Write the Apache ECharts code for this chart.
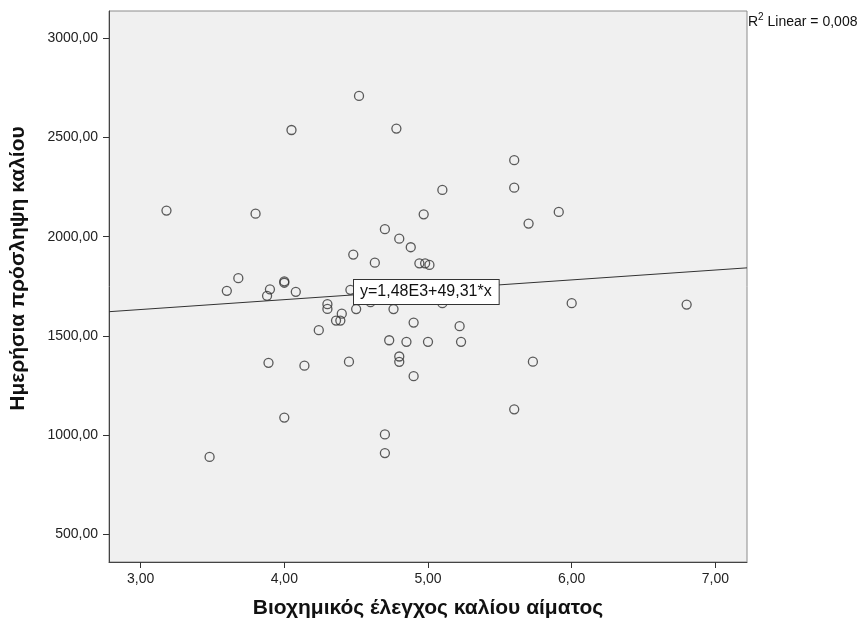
<!DOCTYPE html>
<html>
<head>
<meta charset="utf-8">
<script src="https://cdn.jsdelivr.net/npm/echarts@6/dist/echarts.min.js"></script>
<style>html,body{margin:0;padding:0;background:#fff}#c{width:867px;height:622px}</style>
</head>
<body>
<div id="c"></div>
<script>
// Data
var potassiumBlood = [4.52,4.05,4.78,3.18,3.80,4.97,4.70,4.80,4.88,4.48,4.63,4.94,4.98,5.01,3.68,3.60,3.90,4.00,4.00,4.08,3.88,4.46,4.30,4.30,4.50,4.60,4.76,4.40,4.36,4.39,4.90,4.24,4.73,4.85,4.80,4.80,4.90,3.89,4.14,4.45,4.00,4.70,4.70,3.48,5.10,6.00,6.80,5.22,5.00,5.23,5.73,5.60,5.60,5.60,5.10,5.91,5.70];
var dailyIntake   = [2710,2538,2545,2132,2116,2113,2038,1990,1947,1910,1869,1866,1866,1858,1791,1727,1735,1775,1768,1722,1702,1732,1660,1636,1635,1670,1635,1612,1577,1577,1567,1529,1478,1470,1396,1369,1297,1364,1350,1370,1088,1003,909,890,1665,1665,1658,1549,1470,1470,1370,1130,2386,2247,2236,2125,2066];
var fitLineX = [2.78, 7.22];
var fitLineY = [1622, 1843];
var xTicks = [3, 4, 5, 6, 7];
var yTicks = [500, 1000, 1500, 2000, 2500, 3000];
var xTitle = 'Βιοχημικός έλεγχος καλίου αίματος';
var yTitle = 'Ημερήσια πρόσληψη καλίου';
var fitLabel = 'y=1,48E3+49,31*x';

var pts = potassiumBlood.map(function(x, i){ return [x, dailyIntake[i]]; });
var linePts = fitLineX.map(function(x, i){ return [x, fitLineY[i]]; });
function fmt(v){ return v.toFixed(2).replace('.', ','); }

var chart = echarts.init(document.getElementById('c'), null, {renderer:'canvas'});
var font = 'Liberation Sans, Arial, sans-serif';
chart.setOption({
  animation: false,
  grid: {left:109, right:120, top:11, bottom:60, show:true, backgroundColor:'#f0f0f0', borderColor:'#8c8c8c', borderWidth:1, outerBoundsMode:'none', containLabel:false},
  xAxis: {
    type:'value', min:2.78, max:7.22,
    name: xTitle, nameLocation:'middle', nameGap:36,
    nameTextStyle:{fontFamily:font, fontSize:21, fontWeight:'bold', color:'#111'},
    axisLine:{show:true, onZero:false, lineStyle:{color:'#444', width:1}},
    axisTick:{show:true, length:6, customValues:xTicks, lineStyle:{color:'#333'}},
    axisLabel:{customValues:xTicks, formatter:fmt, fontFamily:font, fontSize:14, color:'#222', margin:10},
    splitLine:{show:false}
  },
  yAxis: {
    type:'value', min:360, max:3138,
    name: yTitle, nameLocation:'middle', nameGap:80, nameRotate:90,
    nameTextStyle:{fontFamily:font, fontSize:21, fontWeight:'bold', color:'#111', padding:[0,0,0,36]},
    axisLine:{show:true, onZero:false, lineStyle:{color:'#444', width:1}},
    axisTick:{show:true, length:6, customValues:yTicks, lineStyle:{color:'#333'}},
    axisLabel:{customValues:yTicks, formatter:fmt, fontFamily:font, fontSize:14, color:'#222', margin:11},
    splitLine:{show:false}
  },
  series: [
    {type:'line', data:linePts, symbol:'none', lineStyle:{color:'#333', width:1}, silent:true, z:2},
    {type:'scatter', data:pts, symbol:'circle', symbolSize:9,
     itemStyle:{color:'rgba(0,0,0,0)', borderColor:'#333', borderWidth:1.3}, z:3}
  ],
  graphic: [
    {type:'text', left:353, top:279, z:10,
     style:{text:fitLabel, font:'16px '+font, fill:'#111', backgroundColor:'#fff', borderColor:'#333', borderWidth:1, padding:[4,7,4,6]}},
    {type:'text', left:748, top:12, z:10,
     style:{text:'{a|R}{s|2}{a| Linear = 0,008}', rich:{a:{fontSize:14, fontFamily:font, fill:'#111', verticalAlign:'bottom'}, s:{fontSize:10, fontFamily:font, fill:'#111', verticalAlign:'top', padding:[0,0,7,0]}}}}
  ]
});
</script>
</body>
</html>
